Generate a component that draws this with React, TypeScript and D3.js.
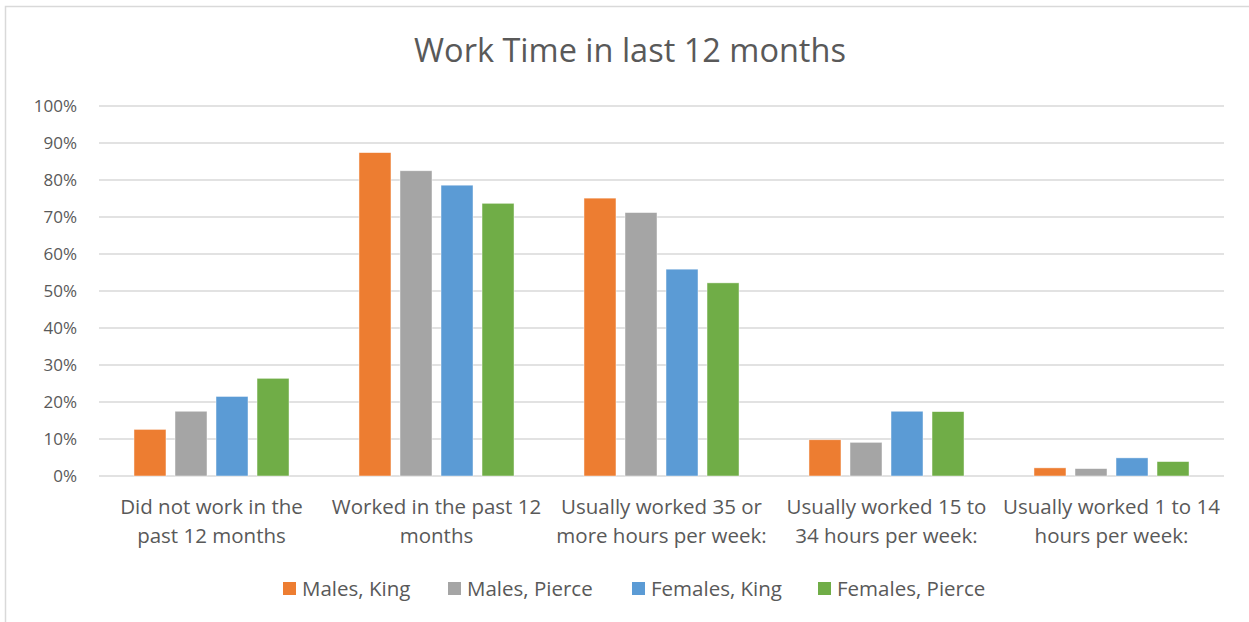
import React, { useEffect, useRef } from 'react';
import * as d3 from 'd3';

const categories = [
  ['Did not work in the', 'past 12 months'],
  ['Worked in the past 12', 'months'],
  ['Usually worked 35 or', 'more hours per week:'],
  ['Usually worked 15 to', '34 hours per week:'],
  ['Usually worked 1 to 14', 'hours per week:'],
];
const seriesNames = ['Males, King', 'Males, Pierce', 'Females, King', 'Females, Pierce'];
const seriesColors = ['#ED7D31', '#A5A5A5', '#5B9BD5', '#70AD47'];
const malesKing = [12.6, 87.4, 75.1, 9.8, 2.2];
const malesPierce = [17.5, 82.5, 71.2, 9.1, 2.0];
const femalesKing = [21.5, 78.6, 55.9, 17.5, 4.9];
const femalesPierce = [26.4, 73.7, 52.2, 17.4, 3.9];
const yTicks = [0, 10, 20, 30, 40, 50, 60, 70, 80, 90, 100];

const FONT = "'Open Sans', sans-serif";
const TEXT = '#595959';

const App = () => {
  const svgRef = useRef<SVGSVGElement>(null);

  const width = 1249;
  const height = 622;
  const marginTop = 106;
  const marginLeft = 99;
  const marginRight = 25;
  const marginBottom = 146;

  useEffect(() => {
    const svg = d3.select(svgRef.current);
    svg.selectAll('*').remove();

    const values = [malesKing, malesPierce, femalesKing, femalesPierce];
    const catIdx = categories.map((_, i) => i);

    const x0 = d3.scaleBand<number>()
      .domain(catIdx)
      .range([marginLeft, width - marginRight])
      .paddingInner(0.311)
      .paddingOuter(0.1555);

    const x1 = d3.scaleBand<number>()
      .domain(seriesNames.map((_, i) => i))
      .range([0, x0.bandwidth()])
      .paddingInner(0.22);

    const y = d3.scaleLinear()
      .domain([0, 100])
      .range([height - marginBottom, marginTop]);

    // frame
    svg.append('rect')
      .attr('x', 5.5).attr('y', 6.5)
      .attr('width', 1270).attr('height', 640)
      .attr('fill', 'white')
      .attr('stroke', '#d9d9d9')
      .attr('stroke-width', 1.5);

    // title
    svg.append('text')
      .attr('x', 630).attr('y', 62)
      .attr('text-anchor', 'middle')
      .attr('font-family', FONT)
      .attr('font-size', 32.5)
      .attr('fill', TEXT)
      .text('Work Time in last 12 months');

    // grid
    svg.append('g')
      .selectAll('line')
      .data(yTicks)
      .join('line')
      .attr('x1', marginLeft)
      .attr('x2', width - marginRight)
      .attr('y1', d => y(d))
      .attr('y2', d => y(d))
      .attr('stroke', '#d9d9d9')
      .attr('stroke-width', 1.5);

    // y labels
    svg.append('g')
      .selectAll('text')
      .data(yTicks)
      .join('text')
      .attr('x', 77)
      .attr('y', d => y(d))
      .attr('dy', '0.35em')
      .attr('text-anchor', 'end')
      .attr('font-family', FONT)
      .attr('font-size', 17)
      .attr('fill', TEXT)
      .text(d => `${d}%`);

    // bars
    const groups = svg.append('g')
      .selectAll('g')
      .data(values)
      .join('g')
      .attr('fill', (_, i) => seriesColors[i]);

    groups.each(function (vals, si) {
      d3.select(this)
        .selectAll('rect')
        .data(vals)
        .join('rect')
        .attr('x', (_, ci) => (x0(ci) ?? 0) + (x1(si) ?? 0))
        .attr('y', d => y(d))
        .attr('width', x1.bandwidth())
        .attr('height', d => y(0) - y(d))
        .attr('stroke', 'white')
        .attr('stroke-opacity', 0.6)
        .attr('stroke-width', 0.75);
    });

    // x labels
    const xl = svg.append('g')
      .selectAll('text')
      .data(categories)
      .join('text')
      .attr('x', (_, i) => (x0(i) ?? 0) + x0.bandwidth() / 2)
      .attr('y', 514)
      .attr('text-anchor', 'middle')
      .attr('font-family', FONT)
      .attr('font-size', 20.5)
      .attr('fill', TEXT);
    xl.selectAll('tspan')
      .data(d => d)
      .join('tspan')
      .attr('x', function () { return (this.parentNode as SVGTextElement).getAttribute('x'); })
      .attr('dy', (_, i) => (i === 0 ? 0 : 29))
      .text(d => d);

    // legend
    const legendX = [283, 448, 632, 818];
    const lg = svg.append('g')
      .selectAll('g')
      .data(seriesNames)
      .join('g')
      .attr('transform', (_, i) => `translate(${legendX[i]},582)`);
    lg.append('rect')
      .attr('width', 13).attr('height', 13)
      .attr('fill', (_, i) => seriesColors[i]);
    lg.append('text')
      .attr('x', 19).attr('y', 6.5)
      .attr('dy', '0.35em')
      .attr('font-family', FONT)
      .attr('font-size', 20.5)
      .attr('fill', TEXT)
      .text(d => d);
  }, []);

  return (
    <div style={{ position: 'absolute', left: 0, top: 0 }}>
      <svg ref={svgRef} width={width} height={height} style={{ display: 'block' }} />
    </div>
  );
};

export default App;
